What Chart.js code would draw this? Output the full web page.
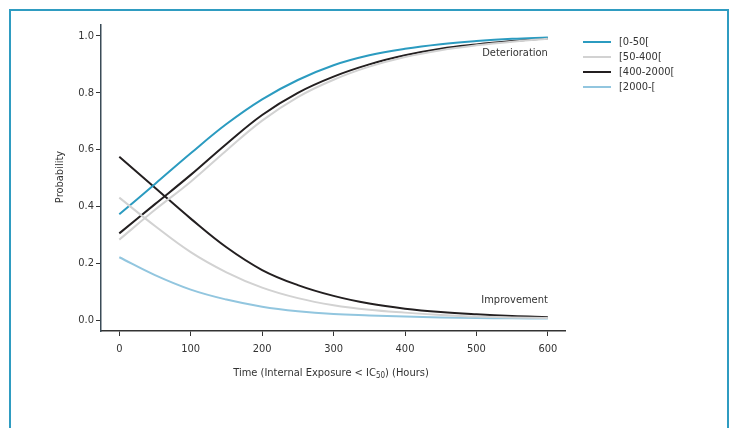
<!DOCTYPE html>
<html>
<head>
<meta charset="utf-8">
<script src="https://cdn.jsdelivr.net/npm/chart.js@4"></script>
<style>
  html, body { margin: 0; padding: 0; background: #fff; }
  body { width: 732px; height: 428px; overflow: hidden; position: relative; }
  .frame { position: absolute; left: 9px; top: 9px; width: 716px; height: 440px; border: 2px solid #2f9cc1; }
  #wrap { position: absolute; left: 0; top: 0; width: 732px; height: 428px; }
</style>
</head>
<body>
<div class="frame"></div>
<div id="wrap"><canvas id="myChart" width="732" height="428"></canvas></div>
<script>
const FONT = "'Liberation Sans Narrow', 'Arial Narrow', 'DejaVu Sans Condensed', sans-serif"

// time in hours
const hours = [0, 50, 100, 150, 200, 250, 300, 350, 400, 450, 500, 550, 600]

// deterioration probabilities
const detA = [0.372, 0.479, 0.587, 0.690, 0.777, 0.845, 0.897, 0.932, 0.955, 0.971, 0.982, 0.990, 0.995]
const detB = [0.283, 0.388, 0.487, 0.597, 0.702, 0.785, 0.846, 0.892, 0.926, 0.950, 0.967, 0.980, 0.990]
const detC = [0.305, 0.408, 0.511, 0.620, 0.722, 0.800, 0.857, 0.900, 0.932, 0.955, 0.970, 0.982, 0.992]

// improvement probabilities
const impB = [0.431, 0.331, 0.239, 0.168, 0.114, 0.077, 0.052, 0.036, 0.026, 0.018, 0.012, 0.009, 0.007]
const impC = [0.575, 0.466, 0.357, 0.256, 0.176, 0.123, 0.085, 0.058, 0.040, 0.028, 0.020, 0.014, 0.010]
const impD = [0.221, 0.158, 0.107, 0.072, 0.047, 0.031, 0.021, 0.016, 0.012, 0.009, 0.007, 0.006, 0.005]

const groups = ['[0-50[', '[50-400[', '[400-2000[', '[2000-[']
const groupColors = ['#2b9bc0', '#d2d2d2', '#231f20', '#92c6df']

const xTicks = [0, 100, 200, 300, 400, 500, 600]
const yTicks = [0, 0.2, 0.4, 0.6, 0.8, 1.0]

function pts(values) {
    return values.map((v, i) => ({ x: hours[i], y: v }))
}

function line(label, values, color) {
    return {
        label: label,
        data: pts(values),
        borderColor: color,
        borderWidth: 2,
        pointRadius: 0,
        fill: false,
        tension: 0.4
    }
}

// grey first so black lines sit on top
const datasets = [
    line(groups[1], detB, groupColors[1]),
    line(groups[1], impB, groupColors[1]),
    line(groups[3], impD, groupColors[3]),
    line(groups[0], detA, groupColors[0]),
    line(groups[2], detC, groupColors[2]),
    line(groups[2], impC, groupColors[2])
]

const textPlugin = {
    id: 'texts',
    afterDraw(chart) {
        const ctx = chart.ctx
        const x = chart.scales.x
        const y = chart.scales.y
        const area = chart.chartArea
        ctx.save()
        ctx.fillStyle = '#333'
        ctx.font = '11px ' + FONT
        ctx.textBaseline = 'middle'

        // curve annotations
        ctx.textAlign = 'right'
        ctx.fillText('Deterioration', x.getPixelForValue(600), y.getPixelForValue(0.94))
        ctx.fillText('Improvement', x.getPixelForValue(600), y.getPixelForValue(0.07))

        // x title with subscript
        const p1 = 'Time (Internal Exposure < IC'
        const p2 = '50'
        const p3 = ') (Hours)'
        ctx.font = '11px ' + FONT
        const w1 = ctx.measureText(p1).width
        const w3 = ctx.measureText(p3).width
        ctx.font = '8px ' + FONT
        const w2 = ctx.measureText(p2).width
        let sx = (area.left + area.right) / 2 - (w1 + w2 + w3) / 2 - 2
        const ty = 373
        ctx.textAlign = 'left'
        ctx.font = '11px ' + FONT
        ctx.fillText(p1, sx, ty)
        ctx.font = '8px ' + FONT
        ctx.fillText(p2, sx + w1, ty + 3)
        ctx.font = '11px ' + FONT
        ctx.fillText(p3, sx + w1 + w2, ty)

        // y title
        ctx.save()
        ctx.translate(60, 177)
        ctx.rotate(-Math.PI / 2)
        ctx.textAlign = 'center'
        ctx.fillText('Probability', 0, 0)
        ctx.restore()

        // legend
        ctx.textAlign = 'left'
        groups.forEach((g, i) => {
            const ly = 42 + i * 15
            ctx.strokeStyle = groupColors[i]
            ctx.lineWidth = 2
            ctx.beginPath()
            ctx.moveTo(583, ly)
            ctx.lineTo(611, ly)
            ctx.stroke()
            ctx.fillText(g, 619, ly)
        })
        ctx.restore()
    }
}

let ctx = document.getElementById('myChart').getContext('2d')
let myChart = new Chart(ctx, {
    type: 'line',
    data: { datasets: datasets },
    plugins: [textPlugin],
    options: {
        responsive: false,
        animation: false,
        layout: { padding: { top: 25, right: 167, left: 0, bottom: 0 } },
        plugins: { legend: { display: false }, tooltip: { enabled: false } },
        scales: {
            x: {
                type: 'linear',
                min: -25.6,
                max: 624,
                afterFit: s => { s.height = 97 },
                afterBuildTicks: s => { s.ticks = xTicks.map(v => ({ value: v })) },
                grid: { drawOnChartArea: false, drawTicks: true, tickLength: 5, color: '#333' },
                border: { display: true, color: '#333', width: 1.5 },
                ticks: { color: '#333', padding: 7, font: { family: FONT, size: 11 } }
            },
            y: {
                type: 'linear',
                min: -0.0387,
                max: 1.0387,
                afterFit: s => { s.width = 101 },
                afterBuildTicks: s => { s.ticks = yTicks.map(v => ({ value: v })) },
                grid: { drawOnChartArea: false, drawTicks: true, tickLength: 5, color: '#333' },
                border: { display: true, color: '#3a4b57', width: 1.5 },
                ticks: { color: '#333', padding: 2, font: { family: FONT, size: 11 }, callback: v => v.toFixed(1) }
            }
        }
    }
})
</script>
</body>
</html>
